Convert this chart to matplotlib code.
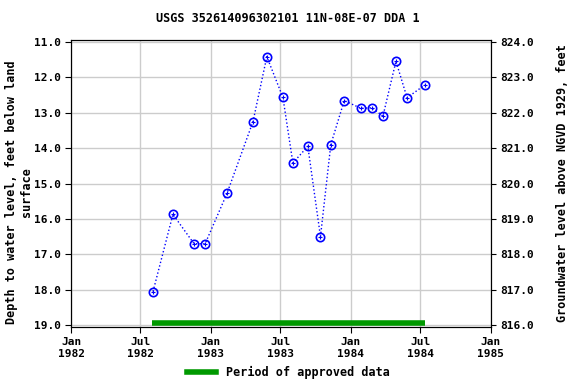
import matplotlib
matplotlib.use('Agg')
import matplotlib.pyplot as plt
import matplotlib.dates as mdates
import pandas as pd

# measurement dates and depth to water (feet below land surface)
dates = ['1982-08-03', '1982-09-24', '1982-11-18', '1982-12-17', '1983-02-12',
         '1983-04-21', '1983-05-27', '1983-07-08', '1983-08-03', '1983-09-11',
         '1983-10-14', '1983-11-10', '1983-12-15', '1984-01-28', '1984-02-26',
         '1984-03-25', '1984-04-28', '1984-05-27', '1984-07-12']
depth = [18.05, 15.87, 16.70, 16.70, 15.28, 13.25, 11.42, 12.57, 14.42, 13.95,
         16.50, 13.90, 12.66, 12.88, 12.86, 13.10, 11.55, 12.58, 12.22]
approved = ['1982-08-01', '1984-07-13']
datum = 835.0

plt.rcParams['font.family'] = ['DejaVu Sans Mono']
plt.rcParams['font.size'] = 8
plt.rcParams['font.weight'] = 'bold'

d = pd.to_datetime(dates)
fig = plt.figure(figsize=(5.76, 3.84), dpi=100)
ax = fig.add_axes([0.1233, 0.1484, 0.7291, 0.7474])

ax.plot(d, depth, color='blue', linestyle=':', linewidth=1, marker='o',
        markersize=6, markerfacecolor='none', markeredgecolor='blue', markeredgewidth=1.2)
ax.plot(d, depth, linestyle='none', marker='+', markersize=3, color='blue', markeredgewidth=0.8)

ap = pd.to_datetime(approved)
ax.plot(ap, [18.93, 18.93], color='#009900', linewidth=4, solid_capstyle='butt')

ax.set_xlim(pd.Timestamp('1982-01-01'), pd.Timestamp('1985-01-01'))
ax.set_ylim(19.05, 10.95)
ax.set_yticks([11, 12, 13, 14, 15, 16, 17, 18, 19])
ax.yaxis.set_major_formatter(matplotlib.ticker.FormatStrFormatter('%.1f'))
ticks = pd.to_datetime(['1982-01-01', '1982-07-01', '1983-01-01', '1983-07-01',
                        '1984-01-01', '1984-07-01', '1985-01-01'])
ax.set_xticks(ticks)
ax.set_xticklabels(['Jan\n1982', 'Jul\n1982', 'Jan\n1983', 'Jul\n1983',
                    'Jan\n1984', 'Jul\n1984', 'Jan\n1985'])
ax.grid(True, color='#cccccc', linewidth=1)
ax.set_axisbelow(True)
ax.tick_params(direction='out', length=4)

ax2 = ax.twinx()
ax2.set_ylim(datum - 19.05, datum - 10.95)
ax2.set_yticks([816, 817, 818, 819, 820, 821, 822, 823, 824])
ax2.yaxis.set_major_formatter(matplotlib.ticker.FormatStrFormatter('%.1f'))

fig.text(19 / 576, 0.5 + 0.0, 'Depth to water level, feet below land\nsurface',
         rotation=90, ha='center', va='center', fontsize=8.5, fontweight='bold',
         multialignment='center', transform=fig.transFigure)
fig.text(563 / 576, 1 - 183 / 384, 'Groundwater level above NGVD 1929, feet',
         rotation=90, ha='center', va='center', fontsize=8.5, fontweight='bold')

fig.text(0.5, 1 - 19 / 384, 'USGS 352614096302101 11N-08E-07 DDA 1',
         ha='center', va='center', fontsize=8.5, fontweight='bold')

leg_line = plt.Line2D([], [], color='#009900', linewidth=4)
fig.legend([leg_line], ['Period of approved data'], loc='lower center',
           bbox_to_anchor=(0.5, -0.015), frameon=False, fontsize=8.5, handlelength=2.5)

fig.savefig('out.png', dpi=100)
